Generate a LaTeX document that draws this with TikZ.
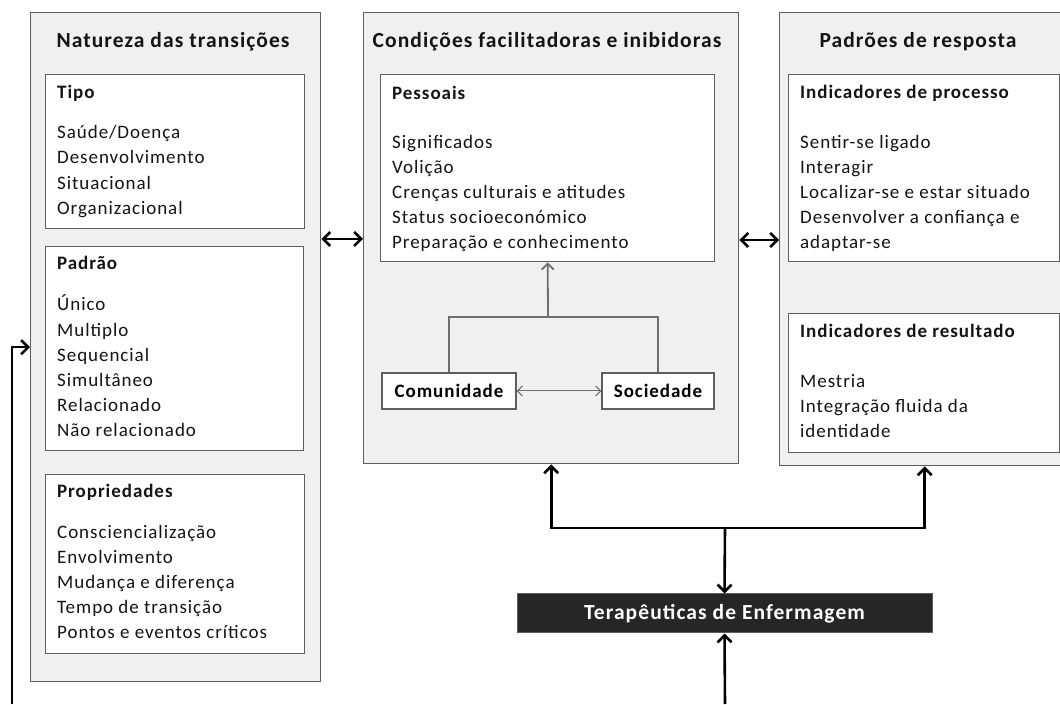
\documentclass[tikz,border=0pt]{standalone}
\usepackage{fontspec}
\setmainfont{Carlito}[LetterSpace=5]
\usetikzlibrary{arrows,arrows.meta}
\definecolor{panelfill}{HTML}{F0F0F0}
\definecolor{edgegray}{HTML}{5E5E5E}
\definecolor{linkgray}{HTML}{6E6E6E}
\definecolor{termfill}{HTML}{262626}
\definecolor{ink}{HTML}{141414}
\tikzset{
  panel/.style={draw=edgegray,fill=panelfill,line width=1.4pt,anchor=north west,inner sep=0pt},
  listbox/.style={draw=edgegray,fill=white,line width=1.4pt,anchor=north west,inner sep=0pt},
  tagbox/.style={draw=edgegray,fill=white,line width=1.4pt,font=\fontsize{19}{22}\selectfont\bfseries,inner sep=0pt},
  paneltitle/.style={anchor=base,font=\fontsize{21.5}{24}\selectfont\bfseries,text=ink,inner sep=0pt},
  boxtitle/.style={anchor=base west,font=\fontsize{19}{22}\selectfont\bfseries,text=ink,inner sep=0pt},
  entry/.style={anchor=base west,font=\fontsize{19}{22}\selectfont,text=ink,inner sep=0pt},
  link/.style={line width=2.6pt,black,>={Straight Barb[length=7pt,width=14pt,line width=2.6pt]}},
  sublink/.style={line width=1.8pt,linkgray,>={Straight Barb[length=6pt,width=12pt,line width=1.8pt]}},
  twoway/.style={line width=1pt,linkgray,<->,>={Straight Barb[length=5pt,width=10pt,line width=1pt]}},
}
\begin{document}
\begin{tikzpicture}[x=1pt,y=1pt]
\useasboundingbox (0,0) rectangle (1060,704);
\clip (0,0) rectangle (1060,704);
% panels
\node[panel,minimum width=290,minimum height=669](natureza)at(30,692){};
\node[panel,minimum width=375,minimum height=451](condicoes)at(363,692){};
\node[panel,minimum width=290,minimum height=453](padroes)at(779,692){};
\node[paneltitle](tnatureza)at(173,656){Natureza das transições};
\node[paneltitle](tcondicoes)at(547,656){Condições facilitadoras e inibidoras};
\node[paneltitle](tpadroes)at(918,656){Padrões de resposta};
% natureza das transicoes
\node[listbox,minimum width=259,minimum height=154](tipo)at(45,630){};
\node[listbox,minimum width=258,minimum height=204](padrao)at(45,458){};
\node[listbox,minimum width=259,minimum height=179](propriedades)at(45,230){};
\node[boxtitle](ttipo)at(57,605){Tipo};
\foreach \txt [count=\i] in {{Saúde/Doença},Desenvolvimento,Situacional,Organizacional}
  \node[entry](tipo-\i)at(57,565.5-25.3*\i+25.3){\txt};
\node[boxtitle](tpadrao)at(57,434){Padrão};
\foreach \txt [count=\i] in {Único,Multiplo,Sequencial,Simultâneo,Relacionado,Não relacionado}
  \node[entry](padrao-\i)at(57,393-25.2*\i+25.2){\txt};
\node[boxtitle](tpropriedades)at(57,206){Propriedades};
\foreach \txt [count=\i] in {Consciencialização,Envolvimento,Mudança e diferença,Tempo de transição,Pontos e eventos críticos}
  \node[entry](propriedades-\i)at(57,165-25*\i+25){\txt};
% condicoes
\node[listbox,minimum width=334,minimum height=187](pessoais)at(380,630){};
\node[boxtitle](tpessoais)at(392,604){Pessoais};
\foreach \txt [count=\i] in {Significados,Volição,Crenças culturais e atitudes,Status socioeconómico,Preparação e conhecimento}
  \node[entry](pessoais-\i)at(392,555-25*\i+25){\txt};
\node[tagbox,minimum width=134,minimum height=36](comunidade)at(449,313){Comunidade};
\node[tagbox,minimum width=112,minimum height=36](sociedade)at(658,313){Sociedade};
\coordinate(cjunc)at(548,387);
% padroes de resposta
\node[listbox,minimum width=271,minimum height=187](processo)at(788,630){};
\node[boxtitle](tprocesso)at(800,605){Indicadores de processo};
\foreach \txt [count=\i] in {Sentir-se ligado,Interagir,Localizar-se e estar situado,Desenvolver a confiança e,adaptar-se}
  \node[entry](processo-\i)at(800,555-25*\i+25){\txt};
\node[listbox,minimum width=271,minimum height=139](resultado)at(788,391){};
\node[boxtitle](tresultado)at(800,366){Indicadores de resultado};
\foreach \txt [count=\i] in {Mestria,Integração fluida da,identidade}
  \node[entry](resultado-\i)at(800,316-25*\i+25){\txt};
% terapeuticas
\node[fill=termfill,draw=edgegray,line width=1pt,text=white,font=\fontsize{21.5}{24}\selectfont\bfseries,minimum width=415,minimum height=39,inner sep=0pt](terapeuticas)at(724.5,90.5){Terapêuticas de Enfermagem};
\coordinate(tjunc)at(725,176);
\coordinate(tin)at(725,0);
\coordinate(lin)at(12,0);
% connectors
\draw[link,<->]([yshift=-227pt]natureza.north east)--([yshift=-227pt]condicoes.north west);
\draw[link,<->]([yshift=-228pt]condicoes.north east)--([yshift=-228pt]padroes.north west);
\draw[sublink](comunidade.north)|-(cjunc)-|(sociedade.north);
\draw[sublink,->](cjunc)--(pessoais.south);
\draw[twoway](comunidade)--(sociedade);
\draw[link,->](tjunc)-|(condicoes.south);
\draw[link,->](tjunc)-|(padroes.south);
\draw[link,->](tjunc)--(terapeuticas.north);
\draw[link,->](tin)--(terapeuticas.south);
\draw[link,->](lin)|-(natureza.west);
\end{tikzpicture}
\end{document}
